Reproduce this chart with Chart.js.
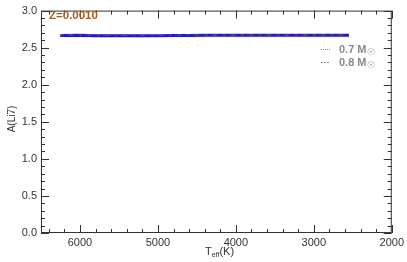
<!DOCTYPE html>
<html lang="en">
<head>
<meta charset="UTF-8">
<title>A(Li7) vs Teff</title>
<script src="https://cdn.jsdelivr.net/npm/chart.js"></script>
<style>
  html, body { margin: 0; padding: 0; background: #fff; }
  #wrap { width: 407px; height: 262px; }
</style>
</head>
<body>
<div id="wrap"><canvas id="myChart" width="407" height="262"></canvas></div>
<script>
// Teff points along the tracks (K)
var teff = [6250, 6000, 5800, 5600, 5400, 5200, 5000, 4800, 4600, 4400, 4200, 4000, 3800, 3600, 3400, 3200, 3000, 2800, 2550];
// A(Li7) for each coloured piece of the tracks
var liBlue  = [2.665, 2.668, 2.662, 2.661, 2.661, 2.662, 2.662, 2.663, 2.665, 2.668, 2.668, 2.668, 2.668, 2.668, 2.668, 2.668, 2.668, 2.668, 2.668];
var liRed   = [2.668, 2.670, 2.664, 2.663, 2.663, 2.664, 2.664, 2.665, 2.667, 2.670, 2.670, 2.670, 2.670, 2.670, 2.670, 2.670, 2.670, 2.670, 2.670];
var liGreen = [2.672, 2.673, 2.667, 2.666, 2.666, 2.667, 2.667, 2.668, 2.670, 2.672, 2.672, 2.672, 2.672, 2.672, 2.672, 2.672, 2.672, 2.672, 2.672];
var liDark  = [2.664, 2.666, 2.660, 2.659, 2.659, 2.660, 2.660, 2.661, 2.663, 2.666, 2.666, 2.666, 2.666, 2.666, 2.666, 2.666, 2.666, 2.666, 2.666];

var xTicks = [6000, 5000, 4000, 3000, 2000];
var yTicks = [0.0, 0.5, 1.0, 1.5, 2.0, 2.5, 3.0];
var legendLabels = ['0.7 M', '0.8 M'];
var zLabel = 'Z=0.0010';

function pts(ys) {
    return teff.map(function (t, i) { return { x: t, y: ys[i] }; });
}

var tickColor = '#333';
var fontFam = '"Liberation Sans", Arial, sans-serif';

// inward ticks on all four sides, plus titles/legend text
var decorations = {
    id: 'decorations',
    afterDraw: function (chart) {
        var ctx = chart.ctx;
        var a = chart.chartArea;
        var xs = chart.scales.x, ys = chart.scales.y;
        ctx.save();
        ctx.strokeStyle = tickColor;
        ctx.lineWidth = 1;
        ctx.strokeRect(a.left + 0.5, a.top + 0.5, a.right - a.left - 1, a.bottom - a.top - 1);
        ctx.beginPath();
        for (var v = 2000; v <= 6500; v += 200) {
            var px = Math.round(xs.getPixelForValue(v)) + 0.5;
            var len = (v % 1000 === 0) ? 8 : 4;
            ctx.moveTo(px, a.bottom); ctx.lineTo(px, a.bottom - len);
            ctx.moveTo(px, a.top); ctx.lineTo(px, a.top + len);
        }
        for (var k = 0; k <= 30; k++) {
            var py = Math.round(ys.getPixelForValue(k / 10)) + 0.5;
            var l2 = (k % 5 === 0) ? 8 : 4;
            ctx.moveTo(a.left, py); ctx.lineTo(a.left + l2, py);
            ctx.moveTo(a.right, py); ctx.lineTo(a.right - l2, py);
        }
        ctx.stroke();

        // x title  T_eff(K)
        ctx.fillStyle = tickColor;
        ctx.textBaseline = 'alphabetic';
        ctx.font = '11px ' + fontFam;
        var x0 = 205, yb = 255;
        ctx.fillText('T', x0, yb);
        var w = ctx.measureText('T').width;
        ctx.font = '7px ' + fontFam;
        ctx.fillText('eff', x0 + w, yb + 2);
        var w2 = ctx.measureText('eff').width;
        ctx.font = '11px ' + fontFam;
        ctx.fillText('(K)', x0 + w + w2, yb);

        // y title
        ctx.save();
        ctx.translate(15, 119);
        ctx.rotate(-Math.PI / 2);
        ctx.textAlign = 'center';
        ctx.font = '10px ' + fontFam;
        ctx.fillText('A(Li7)', 0, 0);
        ctx.restore();

        // Z label
        ctx.fillStyle = '#a65b1c';
        ctx.font = 'bold 11.5px ' + fontFam;
        ctx.fillText(zLabel, 49, 19);

        // legend
        var dashes = [[1, 1], [2, 1]];
        legendLabels.forEach(function (lab, i) {
            var ly = 49 + i * 13;
            ctx.strokeStyle = '#888';
            ctx.setLineDash(dashes[i]);
            ctx.beginPath();
            ctx.moveTo(321, ly + 0.5); ctx.lineTo(330, ly + 0.5);
            ctx.stroke();
            ctx.setLineDash([]);
            ctx.fillStyle = '#8a8a8a';
            ctx.font = 'bold 11px ' + fontFam;
            ctx.fillText(lab, 339, ly + 4);
            var lw = ctx.measureText(lab).width;
            ctx.font = 'bold 9px "DejaVu Sans", sans-serif';
            ctx.fillText('\u2609', 339 + lw + 0.5, ly + 6);
        });
        ctx.restore();
    }
};

var config = {
    type: 'line',
    data: {
        datasets: [
            { label: 'blue', data: pts(liBlue), borderColor: '#1414f0', borderWidth: 3, order: 5 },
            { label: 'red', data: pts(liRed), borderColor: '#d01010', borderWidth: 1.5, borderDash: [2, 4], order: 2 },
            { label: 'green', data: pts(liGreen), borderColor: '#1a8a1a', borderWidth: 1.5, borderDash: [3, 6], order: 3 },
            { label: 'dark', data: pts(liDark), borderColor: '#303050', borderWidth: 1.5, borderDash: [1, 5], order: 1 }
        ]
    },
    options: {
        responsive: false,
        animation: false,
        layout: { padding: { top: 5, right: 13, left: 0, bottom: 0 } },
        elements: { point: { radius: 0 }, line: { tension: 0 } },
        plugins: { legend: { display: false }, tooltip: { enabled: false } },
        scales: {
            x: {
                type: 'linear',
                min: 2000, max: 6500, reverse: true,
                grid: { display: false, drawTicks: false, tickLength: 0 },
                border: { display: false },
                afterFit: function (s) { s.height = 29; },
                afterBuildTicks: function (s) { s.ticks = xTicks.map(function (v) { return { value: v }; }); },
                ticks: {
                    color: tickColor, padding: 3, maxRotation: 0,
                    font: { family: fontFam, size: 11 },
                    callback: function (v) { return String(v); }
                }
            },
            y: {
                min: 0, max: 3,
                grid: { display: false, drawTicks: false, tickLength: 0 },
                border: { display: false },
                afterFit: function (s) { s.width = 41; },
                afterBuildTicks: function (s) { s.ticks = yTicks.map(function (v) { return { value: v }; }); },
                ticks: {
                    color: tickColor, padding: 4,
                    font: { family: fontFam, size: 11 },
                    callback: function (v) { return Number(v).toFixed(1); }
                }
            }
        }
    },
    plugins: [decorations]
};

var ctx = document.getElementById('myChart').getContext('2d');
var myChart = new Chart(ctx, config);
</script>
</body>
</html>
